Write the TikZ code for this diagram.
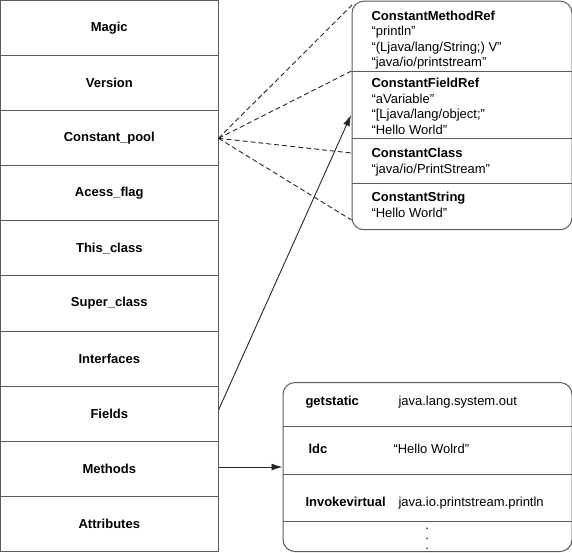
\documentclass[tikz,border=0pt]{standalone}
\usepackage{fontspec}
\setmainfont{Liberation Sans}
\usetikzlibrary{arrows.meta}
\definecolor{edge}{HTML}{5A5A5A}
\begin{document}
\begin{tikzpicture}[x=1pt,y=-1pt,line width=1pt,
  rowbox/.style={draw=edge,minimum width=217.4pt,minimum height=55.08pt,inner sep=0pt,font=\bfseries\fontsize{13}{15.5}\selectfont},
  panel/.style={draw=edge,rounded corners=12pt,anchor=north west,inner sep=0pt},
  divider/.style={draw=edge},
  txt/.style={anchor=base west,inner sep=0pt,font=\fontsize{13}{15.5}\selectfont},
  btxt/.style={txt,font=\bfseries\fontsize{13}{15.5}\selectfont},
  dots/.style={anchor=base,inner sep=0pt,align=center,font=\bfseries\fontsize{9}{10}\selectfont},
  dashlink/.style={draw=black!85,line width=0.9pt,dash pattern=on 5pt off 3pt},
  arrowlink/.style={draw=black!85,line width=0.9pt,-{Latex[length=11pt,width=7pt]}}]
\useasboundingbox (0,0) rectangle (572,552);

% class file structure
\node[rowbox] (magic)  at (109.3,28.1)  {Magic};
\node[rowbox] (version) at (109.3,83.2) {Version};
\node[rowbox] (cpool)  at (109.3,138.3) {Constant\_pool};
\node[rowbox] (access) at (109.3,193.4) {Acess\_flag};
\node[rowbox] (this)   at (109.3,248.4) {This\_class};
\node[rowbox] (super)  at (109.3,303.5) {Super\_class};
\node[rowbox] (ifaces) at (109.3,358.6) {Interfaces};
\node[rowbox] (fields) at (109.3,413.7) {Fields};
\node[rowbox] (methods) at (109.3,468.8) {Methods};
\node[rowbox] (attrs)  at (109.3,523.9) {Attributes};

% constant pool panel
\node[panel,minimum width=220pt,minimum height=228.6pt] (cpbox) at (351.5,0.6) {};
\draw[divider] (cpbox.west |- 0,71) -- (cpbox.east |- 0,71);
\draw[divider] (cpbox.west |- 0,138) -- (cpbox.east |- 0,138);
\draw[divider] (cpbox.west |- 0,183) -- (cpbox.east |- 0,183);

\node[btxt] (mr0) at (371,20)   {ConstantMethodRef};
\node[txt]  (mr1) at (371,35.5) {“println”};
\node[txt]  (mr2) at (371,51)   {“(Ljava/lang/String;) V”};
\node[txt]  (mr3) at (371,66.5) {“java/io/printstream”};

\node[btxt] (fr0) at (371,87.5) {ConstantFieldRef};
\node[txt]  (fr1) at (371,103)  {“aVariable”};
\node[txt]  (fr2) at (371,118.5){“[Ljava/lang/object;”};
\node[txt]  (fr3) at (371,134)  {“Hello World”};

\node[btxt] (cc0) at (371,157.5) {ConstantClass};
\node[txt]  (cc1) at (371,173)   {“java/io/PrintStream”};

\node[btxt] (cs0) at (371,201.5) {ConstantString};
\node[txt]  (cs1) at (371,217)   {“Hello World”};

% method code panel
\node[panel,minimum width=289pt,minimum height=169pt] (code) at (282.5,382) {};
\draw[divider] (code.west |- 0,426) -- (code.east |- 0,426);
\draw[divider] (code.west |- 0,474) -- (code.east |- 0,474);
\draw[divider] (code.west |- 0,521) -- (code.east |- 0,521);

\node[btxt] (op1) at (305,405.5) {getstatic};
\node[txt]  (ar1) at (398,405.5) {java.lang.system.out};
\node[btxt] (op2) at (308,453.5) {ldc};
\node[txt]  (ar2) at (393,453.5) {“Hello Wolrd”};
\node[btxt] (op3) at (305,506.5) {Invokevirtual};
\node[txt]  (ar3) at (398,506.5) {java.io.printstream.println};
\node[dots] (more) at (427,549) {.\\.\\.};

% connectors
\coordinate (t1) at (352,5);
\coordinate (t2) at (351.5,71);
\coordinate (t3) at (351.5,153);
\coordinate (t4) at (351.5,220);
\draw[dashlink] (cpool.east) -- (t1);
\draw[dashlink] (cpool.east) -- (t2);
\draw[dashlink] (cpool.east) -- (t3);
\draw[dashlink] (cpool.east) -- (t4);

\coordinate (fieldtip) at (351,115);
\draw[arrowlink] (fields.east |- 0,410) -- (fieldtip);
\draw[arrowlink] (methods.east |- 0,467) -- (code.west |- 0,467);
\end{tikzpicture}
\end{document}
